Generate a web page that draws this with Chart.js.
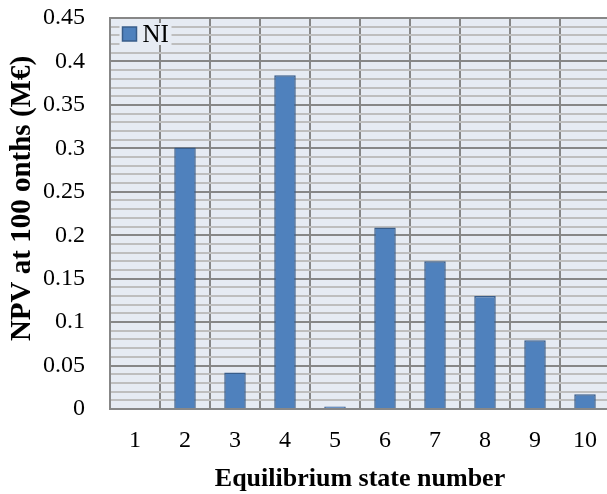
<!DOCTYPE html>
<html>
<head>
<meta charset="utf-8">
<script src="https://cdn.jsdelivr.net/npm/chart.js@4.4.0/dist/chart.umd.min.js"></script>
<style>
  html, body { margin: 0; padding: 0; overflow: hidden; background: #ffffff; }
  #wrap { position: absolute; left: 0; top: 0; width: 620px; height: 494px; }
</style>
</head>
<body>
<div id="wrap"><canvas id="c" width="620" height="494"></canvas></div>
<script>
// ---- data ----
const categories = ['1', '2', '3', '4', '5', '6', '7', '8', '9', '10'];
const niValues = [0, 0.301, 0.042, 0.384, 0.003, 0.209, 0.170, 0.130, 0.079, 0.017];
const seriesLabel = 'NI';
const yTickLabels = ['0', '0.05', '0.1', '0.15', '0.2', '0.25', '0.3', '0.35', '0.4', '0.45'];
const xTitle = 'Equilibrium state number';
const yTitle = 'NPV at 100 onths (M\u20AC)';

const FONT = "'Liberation Serif', 'Times New Roman', serif";
const plotBg = '#E6EBF3';
const majorGrid = '#878787';
const minorGrid = '#BEBEBE';

const bgPlugin = {
  id: 'plotBg',
  beforeDraw(chart) {
    const a = chart.chartArea, ctx = chart.ctx;
    ctx.save();
    ctx.fillStyle = plotBg;
    ctx.fillRect(a.left, a.top, a.right - a.left, a.bottom - a.top);
    ctx.restore();
  }
};

const extrasPlugin = {
  id: 'extras',
  afterDraw(chart) {
    const ctx = chart.ctx;
    const a = chart.chartArea;
    // y-axis title
    ctx.save();
    ctx.translate(23, 198.5);
    ctx.rotate(-Math.PI / 2);
    ctx.font = 'bold 29px ' + FONT;
    ctx.fillStyle = '#000';
    ctx.textAlign = 'center';
    ctx.textBaseline = 'middle';
    ctx.fillText(yTitle, 0, 0);
    ctx.restore();
    // legend inside plot area
    const ds = chart.data.datasets[0];
    const bx = a.left + 12.5, by = a.top + 9, bs = 14;
    ctx.save();
    ctx.fillStyle = plotBg;
    ctx.fillRect(bx - 3, by - 4, 52, bs + 8);
    ctx.fillStyle = ds.backgroundColor;
    ctx.fillRect(bx, by, bs, bs);
    ctx.strokeStyle = ds.borderColor;
    ctx.lineWidth = 1.5;
    ctx.strokeRect(bx, by, bs, bs);
    ctx.font = '25px ' + FONT;
    ctx.fillStyle = '#000';
    ctx.textAlign = 'left';
    ctx.textBaseline = 'alphabetic';
    ctx.fillText(ds.label, 142.5, a.top + 24);
    ctx.restore();
  }
};

new Chart(document.getElementById('c'), {
  type: 'bar',
  data: {
    labels: categories,
    datasets: [{
      label: seriesLabel,
      data: niValues,
      backgroundColor: '#4F81BD',
      borderColor: '#385D8A',
      borderWidth: 1.5,
      borderSkipped: 'bottom',
      categoryPercentage: 1.0,
      barPercentage: 0.43
    }]
  },
  options: {
    responsive: false,
    animation: false,
    devicePixelRatio: 1,
    layout: { padding: { top: 18, right: 10, left: 0, bottom: 0 } },
    plugins: { legend: { display: false }, tooltip: { enabled: false } },
    scales: {
      x: {
        offset: true,
        grid: { offset: true, color: majorGrid, lineWidth: 2, drawTicks: false },
        border: { color: majorGrid, width: 2 },
        ticks: { color: '#000', font: { family: FONT, size: 24 }, padding: 17, maxRotation: 0 },
        title: { display: true, text: xTitle, color: '#000', font: { family: FONT, size: 26, weight: 'bold', lineHeight: 1.1 }, padding: { top: 0, bottom: 0 } },
        afterFit(scale) { scale.height = 85; }
      },
      y: {
        min: 0,
        max: 0.45,
        ticks: {
          stepSize: 0.01,
          autoSkip: false,
          maxTicksLimit: 1000,
          color: '#000',
          font: { family: FONT, size: 24 },
          padding: 25,
          callback: (v, i) => (i % 5 === 0 ? yTickLabels[i / 5] : '')
        },
        grid: {
          drawTicks: false,
          lineWidth: 2,
          color: (c) => (c.index % 5 === 0 ? majorGrid : minorGrid)
        },
        border: { color: majorGrid, width: 2 },
        afterFit(scale) {
          scale.width = 110;
          scale.paddingTop = 0;
          scale.paddingBottom = 0;
        }
      }
    }
  },
  plugins: [bgPlugin, extrasPlugin]
});
</script>
</body>
</html>
